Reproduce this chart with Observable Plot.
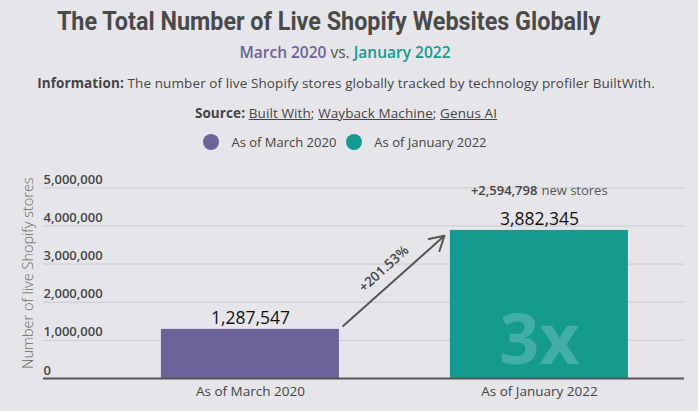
<!DOCTYPE html>
<html>
<head>
<meta charset="utf-8">
<script src="https://cdn.jsdelivr.net/npm/d3@7"></script>
<script src="https://cdn.jsdelivr.net/npm/@observablehq/plot@0.6"></script>
<style>
  html, body { margin: 0; padding: 0; background: #e6e6ea; }
  #wrap { position: relative; width: 698px; height: 411px; overflow: hidden; font-family: "Open Sans", Lato, sans-serif; color: #444; }
  .row { position: absolute; left: 0; width: 698px; text-align: center; white-space: nowrap; }
  #title { top: 9px; left: -20px; font-family: Roboto, sans-serif; font-weight: 700; font-size: 25px; line-height: 26px; color: #4a4a4a; }
  #title span { display: inline-block; transform: scaleX(0.935); }
  #subtitle { top: 42px; left: -4px; font-size: 15.5px; line-height: 20px; font-weight: 600; color: #555; }
  #info { top: 73px; left: -3px; font-size: 13.5px; letter-spacing: 0.1px; line-height: 20px; color: #444; }
  #source { top: 103px; left: -3px; font-size: 13.5px; letter-spacing: 0.1px; line-height: 20px; color: #444; }
  #legend { top: 132px; left: -4px; font-size: 13px; line-height: 20px; color: #444; }
  b { font-weight: 700; }
  .sw { display: inline-block; width: 16px; height: 16px; border-radius: 50%; vertical-align: -3px; margin-right: 12px; }
  #chart { position: absolute; left: 0; top: 160px; }
</style>
</head>
<body>
<div id="wrap">
  <div class="row" id="title"><span>The Total Number of Live Shopify Websites Globally</span></div>
  <div class="row" id="subtitle"><span id="s1"></span> <span style="font-weight:400">vs.</span> <span id="s2"></span></div>
  <div class="row" id="info"><b>Information:</b> The number of live Shopify stores globally tracked by technology profiler BuiltWith.</div>
  <div class="row" id="source"><b>Source:</b> <u>Built With</u>; <u>Wayback Machine</u>; <u>Genus AI</u></div>
  <div class="row" id="legend"></div>
  <div id="chart"></div>
</div>
<script>
const categories = ["As of March 2020", "As of January 2022"];
const periods = ["March 2020", "January 2022"];
const stores = [1287547, 3882345];
const colors = ["#6c6399", "#149a8f"];
const yTicks = [0, 1000000, 2000000, 3000000, 4000000, 5000000];
const yLabel = "Number of live Shopify stores";

const fmt = d3.format(",");
const data = categories.map((c, i) => ({cat: c, i, value: stores[i]}));
const half = 0.308;
const diff = stores[1] - stores[0];
const pct = diff / stores[0] * 100;
const ratio = Math.round(stores[1] / stores[0]);

// subtitle + legend
document.getElementById("s1").textContent = periods[0];
document.getElementById("s1").style.color = colors[0];
document.getElementById("s2").textContent = periods[1];
document.getElementById("s2").style.color = colors[1];
const legend = document.getElementById("legend");
categories.forEach((c, i) => {
  const sw = document.createElement("span");
  sw.className = "sw"; sw.style.background = colors[i];
  if (i > 0) sw.style.marginLeft = "10px";
  legend.appendChild(sw);
  legend.appendChild(document.createTextNode(c));
});

const chart = Plot.plot({
  width: 698, height: 251,
  marginTop: 27.3, marginBottom: 33, marginLeft: 43, marginRight: 14,
  style: {background: "transparent", fontFamily: "'Open Sans', sans-serif", overflow: "visible"},
  x: {domain: [-0.716, 1.502], axis: null},
  y: {domain: [0, 5000000], axis: null},
  color: {domain: categories, range: colors},
  marks: [
    Plot.ruleY(yTicks.slice(1), {stroke: "#c9cace", strokeWidth: 1}),
    Plot.rectY(data, {x1: d => d.i - half, x2: d => d.i + half, y: "value", fill: "cat"}),
    Plot.ruleY([0], {stroke: "#555", strokeWidth: 2}),
    Plot.text(yTicks, {y: d => d, text: d => fmt(d), frameAnchor: "left", textAnchor: "start", lineAnchor: "bottom", dy: -4, fontSize: 13, fontWeight: 600, fill: "#444"}),
    Plot.text([yLabel], {text: d => d, frameAnchor: "left", rotate: -90, textAnchor: "middle", lineAnchor: "middle", dx: -15, dy: -10, fontSize: 14.5, fontWeight: 300, fill: "#666"}),
    Plot.text(data, {x: "i", y: 0, text: "cat", lineAnchor: "top", dy: 8, fontSize: 13.5, fill: "#444"}),
    Plot.text(data, {x: "i", y: "value", text: d => fmt(d.value), lineAnchor: "bottom", dy: -5.5, fontSize: 17.5, fontWeight: 500, fill: "#111"}),
    Plot.text([{i: 1, value: stores[1]}], {x: "i", y: "value", text: d => "+" + fmt(diff), textAnchor: "end", lineAnchor: "bottom", dx: -2, dy: -35, fontSize: 13, fontWeight: 600, fill: "#444"}),
    Plot.text([{i: 1, value: stores[1]}], {x: "i", y: "value", text: d => "new stores", textAnchor: "start", lineAnchor: "bottom", dx: 2, dy: -35, fontSize: 13, fill: "#555"}),
    Plot.text([{i: 1}], {x: "i", y: 0, text: d => ratio + "x", lineAnchor: "bottom", dy: -15, fontSize: 70, fontWeight: 700, fill: "rgba(255,255,255,0.2)"}),
    Plot.arrow([{x1: 0 + half, y1: stores[0], x2: 1 - half, y2: stores[1]}], {x1: "x1", y1: "y1", x2: "x2", y2: "y2", stroke: "#555", strokeWidth: 2, headLength: 12, insetStart: 5, insetEnd: 8, bend: 0}),
    Plot.text([{x: 0.5, y: (stores[0] + stores[1]) / 2}], {x: "x", y: "y", text: d => "+" + pct.toFixed(2) + "%", rotate: -42, dx: -11, dy: -11, fontSize: 13.5, fontWeight: 600, fill: "#444"})
  ]
});
document.getElementById("chart").appendChild(chart);
</script>
</body>
</html>
